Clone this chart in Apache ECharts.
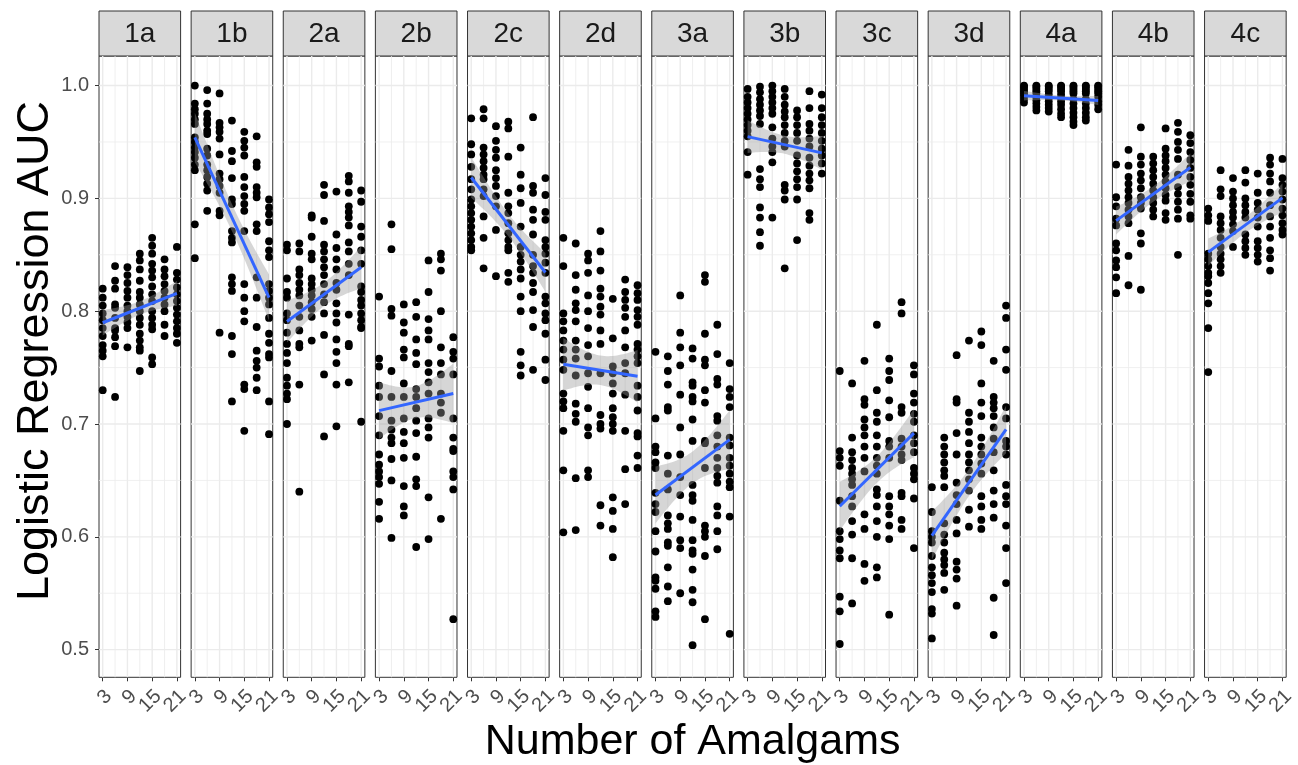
<!DOCTYPE html>
<html><head><meta charset="utf-8">
<script src="https://cdn.jsdelivr.net/npm/echarts@6/dist/echarts.min.js"></script>
<style>html,body{margin:0;padding:0;background:#fff}#c{width:1298px;height:765px}</style>
</head><body><div id="c"></div>
<script>
// ---------- data ----------
const panels = ['1a','1b','2a','2b','2c','2d','3a','3b','3c','3d','4a','4b','4c'];
const xLevels = [3, 6, 9, 12, 15, 18, 21];
const xTickValues = [3, 9, 15, 21];
const xMinorGrid = [6, 12, 18];
const yTickValues = [0.5, 0.6, 0.7, 0.8, 0.9, 1.0];
const yMinorGrid = [0.55, 0.65, 0.75, 0.85, 0.95];
const xTitle = 'Number of Amalgams';
const yTitle = 'Logistic Regression AUC';

// AUC values per panel, one list per amalgam count (3,6,...,21)
const auc_1a = [
 [0.820,0.812,0.805,0.798,0.792,0.785,0.778,0.770,0.765,0.760,0.730],
 [0.840,0.827,0.820,0.806,0.803,0.794,0.785,0.783,0.777,0.769,0.724],
 [0.839,0.832,0.825,0.818,0.812,0.805,0.800,0.795,0.790,0.785,0.768],
 [0.851,0.845,0.837,0.827,0.817,0.812,0.806,0.800,0.794,0.788,0.780,0.774,0.768,0.765,0.747],
 [0.865,0.858,0.851,0.842,0.836,0.830,0.822,0.815,0.809,0.800,0.794,0.788,0.784,0.759,0.753],
 [0.846,0.837,0.831,0.824,0.818,0.812,0.806,0.800,0.788,0.778],
 [0.857,0.834,0.828,0.821,0.815,0.809,0.803,0.797,0.791,0.785,0.780,0.772]];
const auc_1b = [
 [1.000,0.984,0.979,0.975,0.970,0.966,0.954,0.950,0.945,0.941,0.936,0.930,0.925,0.877,0.847],
 [0.996,0.984,0.975,0.970,0.966,0.960,0.957,0.944,0.938,0.930,0.925,0.919,0.913,0.907,0.889],
 [0.993,0.967,0.963,0.959,0.953,0.939,0.922,0.917,0.911,0.905,0.889,0.885,0.781],
 [0.969,0.942,0.933,0.918,0.899,0.895,0.871,0.865,0.861,0.830,0.824,0.818,0.778,0.762,0.720],
 [0.959,0.951,0.945,0.938,0.919,0.910,0.902,0.895,0.889,0.871,0.824,0.812,0.800,0.791,0.735,0.731,0.694],
 [0.955,0.932,0.928,0.910,0.905,0.901,0.877,0.871,0.830,0.812,0.786,0.765,0.756,0.750,0.741,0.730],
 [0.899,0.892,0.886,0.879,0.862,0.854,0.848,0.824,0.818,0.812,0.806,0.794,0.780,0.772,0.762,0.759,0.720,0.691]];
const auc_2a = [
 [0.859,0.854,0.829,0.817,0.812,0.798,0.792,0.781,0.771,0.763,0.754,0.741,0.734,0.727,0.722,0.700],
 [0.860,0.853,0.837,0.832,0.825,0.819,0.814,0.805,0.795,0.783,0.771,0.768,0.735,0.640],
 [0.885,0.883,0.866,0.851,0.846,0.829,0.824,0.819,0.814,0.808,0.802,0.795,0.774],
 [0.912,0.903,0.880,0.859,0.853,0.846,0.839,0.832,0.824,0.815,0.808,0.798,0.779,0.744,0.689],
 [0.906,0.868,0.856,0.846,0.837,0.825,0.819,0.807,0.798,0.790,0.775,0.764,0.754,0.735,0.698],
 [0.920,0.915,0.905,0.893,0.888,0.883,0.876,0.861,0.853,0.842,0.832,0.797,0.771,0.769,0.737],
 [0.907,0.897,0.875,0.866,0.854,0.842,0.822,0.817,0.810,0.805,0.798,0.792,0.786,0.785,0.702]];
const auc_2b = [
 [0.813,0.758,0.751,0.734,0.724,0.707,0.690,0.673,0.664,0.658,0.653,0.647,0.631,0.616],
 [0.877,0.855,0.802,0.796,0.747,0.724,0.703,0.695,0.688,0.683,0.669,0.650,0.599],
 [0.806,0.790,0.781,0.766,0.759,0.736,0.724,0.705,0.693,0.683,0.670,0.645,0.627,0.619],
 [0.808,0.795,0.775,0.763,0.753,0.731,0.724,0.714,0.703,0.692,0.671,0.651,0.645,0.591],
 [0.845,0.817,0.793,0.783,0.775,0.754,0.746,0.737,0.727,0.705,0.697,0.688,0.635,0.598],
 [0.851,0.846,0.836,0.800,0.768,0.754,0.744,0.727,0.719,0.710,0.616],
 [0.777,0.764,0.758,0.744,0.705,0.688,0.678,0.676,0.658,0.653,0.642,0.527]];
const auc_2c = [
 [0.971,0.948,0.939,0.928,0.917,0.908,0.899,0.893,0.887,0.881,0.875,0.869,0.863,0.857,0.854],
 [0.979,0.971,0.945,0.939,0.933,0.927,0.921,0.917,0.908,0.902,0.884,0.865,0.838],
 [0.964,0.951,0.943,0.936,0.925,0.918,0.911,0.902,0.893,0.872,0.831],
 [0.968,0.962,0.937,0.905,0.893,0.887,0.878,0.869,0.863,0.857,0.854,0.834,0.826],
 [0.945,0.921,0.909,0.896,0.875,0.857,0.850,0.844,0.837,0.829,0.813,0.800,0.764,0.752,0.743],
 [0.972,0.911,0.905,0.890,0.881,0.868,0.850,0.840,0.834,0.825,0.817,0.801,0.786,0.748],
 [0.918,0.903,0.888,0.881,0.863,0.857,0.851,0.843,0.834,0.813,0.807,0.798,0.792,0.780,0.757,0.739]];
const auc_2d = [
 [0.865,0.840,0.798,0.791,0.783,0.774,0.766,0.757,0.748,0.727,0.720,0.714,0.694,0.659,0.604],
 [0.860,0.832,0.819,0.807,0.801,0.791,0.774,0.766,0.758,0.743,0.718,0.709,0.702,0.652,0.606],
 [0.851,0.845,0.834,0.814,0.800,0.785,0.770,0.760,0.745,0.733,0.714,0.697,0.690,0.659,0.653],
 [0.871,0.853,0.836,0.820,0.813,0.804,0.797,0.783,0.771,0.745,0.708,0.700,0.696,0.628,0.610],
 [0.811,0.776,0.751,0.745,0.736,0.727,0.714,0.706,0.700,0.694,0.635,0.623,0.607,0.582],
 [0.828,0.817,0.810,0.803,0.795,0.783,0.768,0.754,0.745,0.726,0.694,0.660,0.629],
 [0.823,0.816,0.810,0.801,0.795,0.788,0.771,0.766,0.760,0.754,0.734,0.724,0.712,0.692,0.689,0.672,0.661]];
const auc_3a = [
 [0.764,0.705,0.680,0.675,0.666,0.661,0.639,0.629,0.622,0.605,0.587,0.564,0.561,0.554,0.534,0.529],
 [0.760,0.747,0.735,0.715,0.712,0.672,0.656,0.642,0.619,0.612,0.607,0.595,0.592,0.573,0.556,0.543],
 [0.814,0.781,0.768,0.752,0.726,0.697,0.673,0.653,0.637,0.618,0.597,0.590,0.550],
 [0.767,0.758,0.737,0.734,0.724,0.720,0.704,0.685,0.646,0.637,0.632,0.615,0.597,0.588,0.585,0.571,0.553,0.542,0.504],
 [0.832,0.826,0.780,0.757,0.752,0.730,0.719,0.685,0.683,0.661,0.610,0.605,0.600,0.583,0.527],
 [0.788,0.762,0.740,0.735,0.707,0.703,0.690,0.680,0.670,0.661,0.654,0.648,0.627,0.619,0.605,0.589],
 [0.754,0.731,0.724,0.715,0.688,0.681,0.670,0.663,0.656,0.649,0.644,0.618,0.514]];
const auc_3b = [
 [0.997,0.990,0.985,0.980,0.975,0.970,0.965,0.960,0.955,0.941,0.921],
 [0.999,0.994,0.988,0.983,0.978,0.973,0.966,0.926,0.917,0.910,0.892,0.883,0.870,0.858],
 [1.000,0.995,0.990,0.985,0.980,0.975,0.963,0.953,0.946,0.941,0.932,0.883],
 [0.997,0.990,0.983,0.977,0.972,0.965,0.958,0.951,0.946,0.912,0.907,0.899,0.838],
 [0.978,0.972,0.965,0.958,0.951,0.938,0.931,0.924,0.917,0.910,0.899,0.863],
 [0.995,0.980,0.966,0.960,0.953,0.946,0.936,0.929,0.922,0.916,0.909,0.887,0.881],
 [0.992,0.980,0.972,0.965,0.958,0.951,0.944,0.938,0.931,0.922]];
const auc_3c = [
 [0.747,0.676,0.670,0.663,0.632,0.605,0.598,0.588,0.581,0.547,0.534,0.505],
 [0.736,0.688,0.675,0.668,0.661,0.656,0.651,0.646,0.636,0.627,0.614,0.602,0.581,0.541],
 [0.756,0.722,0.717,0.704,0.697,0.690,0.680,0.670,0.658,0.620,0.607,0.576,0.561],
 [0.788,0.730,0.710,0.702,0.690,0.680,0.670,0.663,0.656,0.642,0.637,0.627,0.614,0.600,0.573,0.564],
 [0.758,0.747,0.739,0.721,0.706,0.685,0.680,0.670,0.636,0.627,0.620,0.610,0.598,0.531],
 [0.808,0.798,0.715,0.710,0.687,0.680,0.673,0.668,0.639,0.636,0.615,0.607],
 [0.752,0.744,0.727,0.719,0.709,0.702,0.690,0.683,0.675,0.661,0.656,0.651,0.634,0.590]];
const auc_3d = [
 [0.644,0.622,0.605,0.600,0.595,0.583,0.573,0.566,0.559,0.551,0.536,0.532,0.510],
 [0.688,0.680,0.673,0.666,0.659,0.654,0.644,0.612,0.602,0.595,0.586,0.580,0.575,0.568,0.553],
 [0.761,0.722,0.719,0.692,0.673,0.648,0.637,0.629,0.615,0.603,0.578,0.571,0.563,0.539],
 [0.774,0.710,0.702,0.693,0.683,0.673,0.666,0.659,0.651,0.641,0.624,0.609],
 [0.782,0.770,0.736,0.719,0.707,0.688,0.680,0.673,0.665,0.656,0.636,0.627,0.615,0.607],
 [0.756,0.724,0.719,0.714,0.707,0.697,0.687,0.675,0.659,0.641,0.629,0.617,0.546,0.513],
 [0.805,0.794,0.766,0.748,0.715,0.705,0.685,0.680,0.673,0.646,0.636,0.629,0.610,0.590,0.559]];
const auc_4a = [
 [1.000,0.999,0.997,0.995,0.993,0.991,0.988,0.985],
 [1.000,0.999,0.997,0.995,0.993,0.990,0.987,0.984,0.981,0.978],
 [1.000,0.999,0.997,0.995,0.992,0.989,0.986,0.983,0.980,0.977],
 [1.000,0.999,0.997,0.995,0.992,0.989,0.986,0.983,0.979,0.975,0.972],
 [1.000,0.999,0.997,0.995,0.993,0.988,0.984,0.980,0.976,0.972,0.968,0.965],
 [1.000,0.999,0.997,0.995,0.993,0.988,0.984,0.980,0.976,0.972,0.969],
 [1.000,0.999,0.997,0.995,0.993,0.990,0.986,0.983,0.979]];
const auc_4b = [
 [0.930,0.901,0.893,0.882,0.876,0.860,0.854,0.845,0.839,0.830,0.816],
 [0.943,0.929,0.919,0.913,0.907,0.901,0.896,0.890,0.884,0.878,0.849,0.823],
 [0.963,0.937,0.930,0.922,0.916,0.909,0.901,0.896,0.891,0.869,0.860,0.819],
 [0.937,0.931,0.925,0.919,0.913,0.907,0.901,0.896,0.890,0.884],
 [0.962,0.944,0.938,0.933,0.927,0.921,0.915,0.909,0.903,0.898,0.887,0.881],
 [0.967,0.959,0.950,0.943,0.935,0.921,0.910,0.904,0.897,0.890,0.882,0.850],
 [0.956,0.949,0.941,0.934,0.927,0.919,0.912,0.904,0.897,0.885,0.882]];
const auc_4c = [
 [0.891,0.885,0.880,0.851,0.846,0.840,0.834,0.831,0.825,0.816,0.807,0.785,0.746],
 [0.925,0.908,0.902,0.884,0.878,0.872,0.865,0.857,0.851,0.846,0.840,0.834],
 [0.918,0.906,0.900,0.894,0.888,0.883,0.877,0.871,0.857],
 [0.925,0.914,0.900,0.894,0.888,0.883,0.868,0.862,0.856,0.850],
 [0.922,0.905,0.896,0.890,0.883,0.875,0.862,0.856,0.850,0.844],
 [0.936,0.930,0.922,0.915,0.905,0.894,0.884,0.875,0.865,0.854,0.847,0.836],
 [0.935,0.918,0.912,0.906,0.899,0.891,0.885,0.878,0.872,0.868]];

const panelData = [auc_1a, auc_1b, auc_2a, auc_2b, auc_2c, auc_2d, auc_3a, auc_3b, auc_3c, auc_3d, auc_4a, auc_4b, auc_4c];

// ---------- layout / style ----------
const FONT = '"Liberation Sans", Arial, Helvetica, sans-serif';
const L0 = 99, PITCH = 92.13, PW = 81.6, TOP = 56, PH = 621.3;
const STRIP_TOP = 11, STRIP_H = 45;
const XMIN = 2.1, XMAX = 21.9, YMIN = 0.4755, YMAX = 1.0262;

function fitLm(pts) {
  const n = pts.length;
  let sx = 0, sy = 0;
  pts.forEach(p => { sx += p[0]; sy += p[1]; });
  const xb = sx / n, yb = sy / n;
  let sxx = 0, sxy = 0;
  pts.forEach(p => { sxx += (p[0]-xb)*(p[0]-xb); sxy += (p[0]-xb)*(p[1]-yb); });
  const b = sxy / sxx, a = yb - b * xb;
  let sse = 0;
  pts.forEach(p => { const r = p[1] - (a + b*p[0]); sse += r*r; });
  const s = Math.sqrt(sse / (n - 2));
  const t = 1.98;
  const band = [];
  for (let x = xLevels[0]; x <= xLevels[xLevels.length-1] + 1e-9; x += 0.5) {
    const y = a + b * x;
    const se = s * Math.sqrt(1/n + (x-xb)*(x-xb)/sxx);
    band.push([x, y - t*se, y + t*se]);
  }
  return {a, b, band};
}

const grids = [], xAxes = [], yAxes = [], series = [], graphics = [];
const gridLineData = [];
xTickValues.forEach(v => gridLineData.push([v, 0.75, 0]));
xMinorGrid.forEach(v => gridLineData.push([v, 0.75, 1]));
yTickValues.forEach(v => gridLineData.push([12, v, 2]));
yMinorGrid.forEach(v => gridLineData.push([12, v, 3]));

panels.forEach((name, i) => {
  const left = L0 + i * PITCH;
  grids.push({left: left, top: TOP, width: PW, height: PH, show: true,
    borderColor: '#333333', borderWidth: 1, backgroundColor: '#ffffff', containLabel: false});
  xAxes.push({type: 'value', gridIndex: i, min: XMIN, max: XMAX,
    axisLine: {show: false}, splitLine: {show: false},
    axisTick: {show: true, customValues: xTickValues, length: 4, lineStyle: {color: '#333333', width: 1}},
    axisLabel: {show: false}});
  yAxes.push({type: 'value', gridIndex: i, min: YMIN, max: YMAX,
    axisLine: {show: false}, splitLine: {show: false},
    axisTick: {show: i === 0, customValues: yTickValues, length: 4, lineStyle: {color: '#333333', width: 1}},
    axisLabel: {show: i === 0, customValues: yTickValues, interval: 0, formatter: v => v.toFixed(1),
      hideOverlap: false, showMinLabel: true, showMaxLabel: true,
      margin: 10, fontSize: 20, color: '#4D4D4D', fontFamily: FONT}});

  // background grid lines drawn through the axis scales
  series.push({type: 'custom', xAxisIndex: i, yAxisIndex: i, silent: true, z: 1,
    data: gridLineData,
    renderItem: (params, api) => {
      const k = api.value(2);
      let p1, p2;
      if (k < 2) { p1 = api.coord([api.value(0), YMIN]); p2 = api.coord([api.value(0), YMAX]); }
      else { p1 = api.coord([XMIN, api.value(1)]); p2 = api.coord([XMAX, api.value(1)]); }
      return {type: 'line', shape: {x1: p1[0], y1: p1[1], x2: p2[0], y2: p2[1]},
        style: {stroke: '#EBEBEB', lineWidth: (k % 2 === 0) ? 1.4 : 0.8}};
    }});

  // rotated x tick labels, placed through the x scale
  series.push({type: 'custom', xAxisIndex: i, yAxisIndex: i, silent: true, z: 5, clip: false,
    data: xTickValues.map(v => [v, YMIN]),
    renderItem: (params, api) => {
      const p = api.coord([api.value(0), YMIN]);
      return {type: 'text', x: p[0] + 6, y: p[1] + 16, rotation: Math.PI / 4,
        style: {text: String(api.value(0)), align: 'right', verticalAlign: 'middle',
          font: '20px ' + FONT, fontSize: 20, fill: '#4D4D4D', fontFamily: FONT}};
    }});

  const pts = [];
  panelData[i].forEach((col, j) => col.forEach(v => pts.push([xLevels[j], v])));
  series.push({type: 'scatter', xAxisIndex: i, yAxisIndex: i, data: pts, symbol: 'circle',
    symbolSize: 7.8, itemStyle: {color: '#000000', opacity: 1}, z: 2, silent: true});

  const f = fitLm(pts);
  series.push({type: 'custom', xAxisIndex: i, yAxisIndex: i, silent: true, z: 3,
    data: [[12, 0.75]],
    renderItem: (params, api) => {
      const upper = f.band.map(p => api.coord([p[0], p[2]]));
      const lower = f.band.map(p => api.coord([p[0], p[1]])).reverse();
      return {type: 'polygon', shape: {points: upper.concat(lower)},
        style: {fill: 'rgba(153,153,153,0.4)'}};
    }});
  const x0 = xLevels[0], x1 = xLevels[xLevels.length-1];
  series.push({type: 'line', xAxisIndex: i, yAxisIndex: i, silent: true, z: 4,
    data: [[x0, f.a + f.b*x0], [x1, f.a + f.b*x1]], symbol: 'none',
    lineStyle: {color: '#3366FF', width: 3}});

  graphics.push({type: 'rect', shape: {x: left, y: STRIP_TOP, width: PW, height: STRIP_H},
    style: {fill: '#D9D9D9', stroke: '#333333', lineWidth: 1}});
  graphics.push({type: 'text', x: left + PW/2, y: STRIP_TOP + STRIP_H/2 + 1,
    style: {text: name, align: 'center', verticalAlign: 'middle', fontSize: 28, fill: '#1A1A1A', fontFamily: FONT}});
});

graphics.push({type: 'text', x: L0 + (12*PITCH + PW)/2, y: 742,
  style: {text: xTitle, align: 'center', verticalAlign: 'middle', fontSize: 43, fill: '#000000', fontFamily: FONT}});
graphics.push({type: 'text', x: 36, y: 351, rotation: Math.PI/2,
  style: {text: yTitle, align: 'center', verticalAlign: 'middle', fontSize: 45, fill: '#000000', fontFamily: FONT}});

const chart = echarts.init(document.getElementById('c'), null, {renderer: 'canvas'});
chart.setOption({
  animation: false,
  backgroundColor: '#ffffff',
  grid: grids, xAxis: xAxes, yAxis: yAxes, series: series, graphic: graphics
});
</script></body></html>
